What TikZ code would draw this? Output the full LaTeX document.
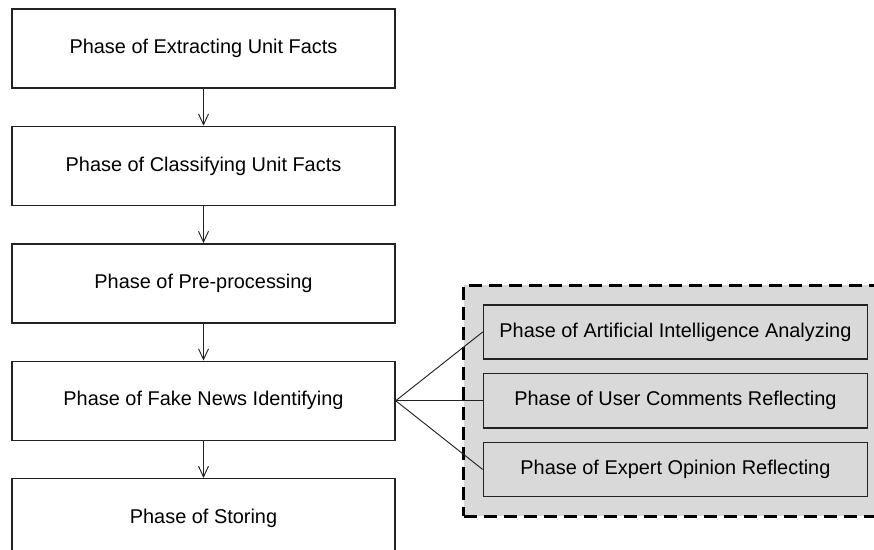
\documentclass[tikz,border=0pt]{standalone}
\usepackage{fontspec}
\setmainfont{Liberation Sans}
\usepackage{xcolor}
\definecolor{PhaseGray}{HTML}{D9D9D9}
\definecolor{LineInk}{HTML}{222222}
\usepackage{tikz}
\usetikzlibrary{arrows.meta,positioning,fit,backgrounds}

\begin{document}
\begin{tikzpicture}[
  font=\fontsize{17}{20}\selectfont,
  phase/.style={draw=LineInk, line width=1.2pt, fill=white, align=center,
                minimum width=11.49cm, minimum height=2.37cm},
  subphase/.style={draw=LineInk, line width=1.2pt, fill=PhaseGray, align=center,
                   minimum width=11.52cm, minimum height=1.63cm},
  group/.style={draw=black, line width=2.5pt, dash pattern=on 3.9mm off 2.1mm,
                fill=PhaseGray, inner sep=0.57cm},
  arr/.style={-{Straight Barb[length=3.2mm, width=3mm]}, line width=0.8pt, LineInk},
  fan/.style={line width=0.8pt, LineInk}
]
  \useasboundingbox (0,0) rectangle (26.22,-16.47);
  \clip (0,0) rectangle (26.22,-16.47);

  % main phases
  \node[phase] (extract) at (6.105,-1.455) {Phase of Extracting Unit Facts};
  \node[phase, below=1.11cm of extract] (classify) {Phase of Classifying Unit Facts};
  \node[phase, below=1.11cm of classify] (prep) {Phase of Pre-processing};
  \node[phase, below=1.11cm of prep] (fake) {Phase of Fake News Identifying};
  \node[phase, below=1.11cm of fake] (store) {Phase of Storing};

  % sub phases of identifying
  \node[subphase, right=2.61cm of fake] (user) {Phase of User Comments Reflecting};
  \node[subphase, above=0.39cm of user] (ai) {Phase of Artificial Intelligence Analyzing};
  \node[subphase, below=0.39cm of user] (expert) {Phase of Expert Opinion Reflecting};
  \begin{scope}[on background layer]
    \node[group, fit=(ai)(user)(expert)] (subgroup) {};
  \end{scope}

  \draw[arr] (extract) -- (classify);
  \draw[arr] (classify) -- (prep);
  \draw[arr] (prep) -- (fake);
  \draw[arr] (fake) -- (store);

  \draw[fan] (fake.east) -- (ai.west);
  \draw[fan] (fake.east) -- (user.west);
  \draw[fan] (fake.east) -- (expert.west);
\end{tikzpicture}
\end{document}
